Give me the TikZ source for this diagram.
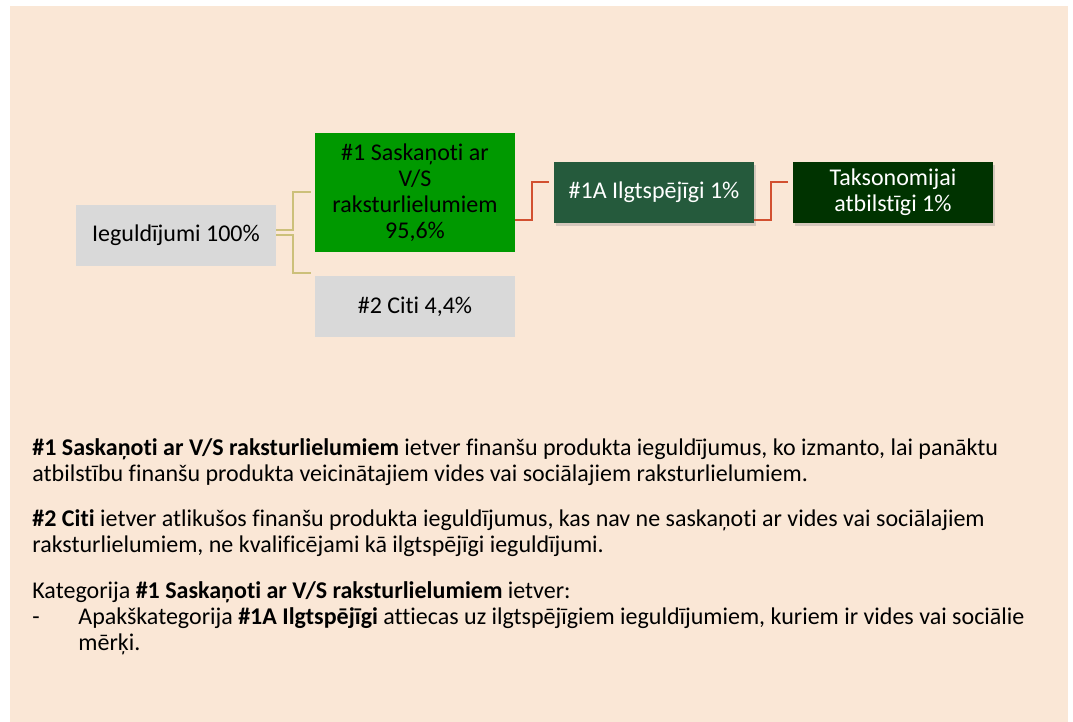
\documentclass[tikz,border=0pt]{standalone}
\usepackage{fontspec}
\setmainfont{Carlito}[Ligatures={NoCommon}]
\usetikzlibrary{shadows,calc}
\definecolor{bgpeach}{RGB}{250,231,214}
\definecolor{boxgrey}{RGB}{217,217,217}
\definecolor{greenone}{RGB}{0,153,0}
\definecolor{greenonea}{RGB}{37,90,60}
\definecolor{greentax}{RGB}{0,51,0}
\definecolor{linetan}{RGB}{204,192,122}
\definecolor{linered}{RGB}{210,80,48}

\begin{document}
\begin{tikzpicture}[x=0.5pt,y=-0.5pt,
	every node/.style={font=\fontsize{12pt}{13pt}\selectfont},
	box/.style={minimum width=100pt,minimum height=30.5pt,inner sep=0pt,align=center},
	greybox/.style={box,fill=boxgrey},
	darkbox/.style={box,text=white,drop shadow={shadow xshift=1pt,shadow yshift=-1.5pt,opacity=0.3}},
	tanline/.style={draw=linetan,line width=1pt},
	redline/.style={draw=linered,line width=1pt},
	para/.style={anchor=base west,inner sep=0pt,align=left}]
		\useasboundingbox (0,0) rectangle (1073,722);
		\fill[bgpeach] (10,6) rectangle (1068,722);
		\node[greybox] (inv) at (176,235.5) {Ieguldījumi 100\%};
		\node[box,fill=greenone,minimum height=59.5pt] (g1) at (415,192.5) {\#1 Saskaņoti ar\\V/S\\raksturlielumiem\\95,6\%};
		\node[greybox] (oth) at (415,306.5) {\#2 Citi 4,4\%};
		\node[darkbox,fill=greenonea] (s1a) at (654,192.5) {\#1A Ilgtspējīgi 1\%};
		\node[darkbox,fill=greentax] (tax) at (893,192.5) {Taksonomijai\\atbilstīgi 1\%};
		\draw[tanline] ($(inv.east)+(0,-5)$) -| ($(g1.west)+(-22,0)$) -- ($(g1.west)+(-4,0)$);
		\draw[tanline] (inv.east) -| ($(oth.north west)+(-22,-3)$) -- ($(oth.north west)+(-4,-3)$);
		\draw[redline] ($(g1.east)+(0,27.5)$) -| ($(s1a.west)+(-22,-10.5)$) -- ($(s1a.west)+(-5,-10.5)$);
		\draw[redline] ($(s1a.east)+(0,27.5)$) -| ($(tax.west)+(-22,-10.5)$) -- ($(tax.west)+(-5,-10.5)$);
		\node[para] (p1) at (32,481.7) {\textbf{\#1 Saskaņoti ar V/S raksturlielumiem} ietver finanšu produkta ieguldījumus, ko izmanto, lai panāktu\\atbilstību finanšu produkta veicinātajiem vides vai sociālajiem raksturlielumiem.};
		\node[para] (p2) at (32,552.7) {\textbf{\#2 Citi} ietver atlikušos finanšu produkta ieguldījumus, kas nav ne saskaņoti ar vides vai sociālajiem\\raksturlielumiem, ne kvalificējami kā ilgtspējīgi ieguldījumi.};
		\node[para] (p3) at (32,598) {Kategorija \textbf{\#1 Saskaņoti ar V/S raksturlielumiem} ietver:};
		\node[para] (dash) at (32,624) {-};
		\node[para] (item) at (78,650) {Apakškategorija \textbf{\#1A Ilgtspējīgi} attiecas uz ilgtspējīgiem ieguldījumiem, kuriem ir vides vai sociālie\\mērķi.};
	\end{tikzpicture}
\end{document}
